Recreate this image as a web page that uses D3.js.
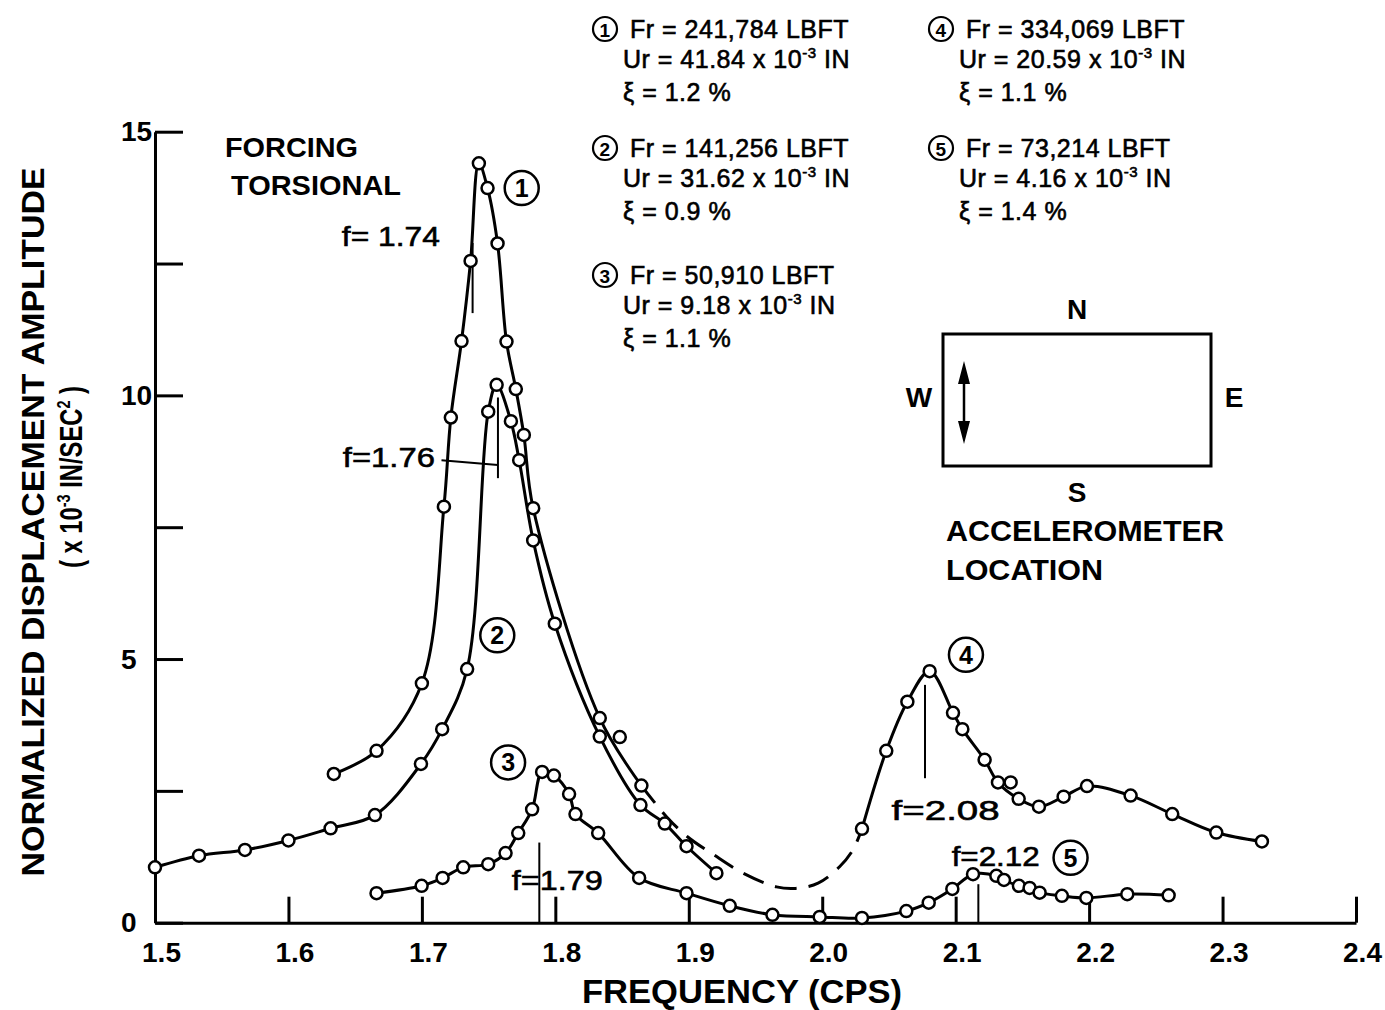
<!DOCTYPE html>
<html><head><meta charset="utf-8">
<script src="https://cdn.jsdelivr.net/npm/d3@7"></script>
<style>body{margin:0;background:#fff} text{font-family:"Liberation Sans",Arial,sans-serif;fill:#000}</style>
</head><body>
<svg id="c" width="1385" height="1010"></svg>
<script>
// ---------- data ----------
const freqTicks = [1.5,1.6,1.7,1.8,1.9,2.0,2.1,2.2,2.3,2.4];
const ampTicks  = [0,2.5,5,7.5,10,12.5,15];
const ampLabels = [0,5,10,15];

const curve1 = [[1.634,2.82],[1.666,3.26],[1.700,4.54],[1.7165,7.89],[1.7217,9.58],[1.7297,11.03],
  [1.7365,12.55],[1.7427,14.40],[1.7492,13.93],[1.7567,12.88],[1.7634,11.02],[1.7704,10.12],
  [1.7764,9.25],[1.7834,7.86],[1.8333,3.88],[1.8645,2.60]];
const curve1Extra = [[1.8483,3.52]];
const bridge14 = [[1.8645,2.60],[1.8833,2.01],[1.8995,1.62],[1.918,1.30],[1.9407,0.94],[1.9657,0.68],
  [1.98,0.65],[1.9969,0.75],[2.013,1.06],[2.023,1.38],[2.0298,1.78]];
const curve2 = [[1.5,1.05],[1.533,1.27],[1.5674,1.38],[1.600,1.56],[1.6316,1.79],[1.6648,2.04],
  [1.6993,3.01],[1.7152,3.67],[1.7339,4.81],[1.7497,9.69],[1.756,10.2],[1.7667,9.51],[1.7729,8.77],
  [1.7834,7.25],[1.7996,5.67],[1.8333,3.53],[1.8638,2.23],[1.882,1.88],[1.8983,1.45],[1.9207,0.94]];
const curve3 = [[1.666,0.56],[1.6998,0.70],[1.7155,0.85],[1.731,1.05],[1.7497,1.11],[1.7627,1.32],
  [1.7722,1.70],[1.7826,2.15],[1.7901,2.86],[1.7989,2.79],[1.8103,2.44],[1.8151,2.06],[1.8321,1.70],
  [1.8628,0.85],[1.8983,0.56],[1.9307,0.32],[1.9627,0.15],[1.9981,0.11]];
const curve4 = [[2.0298,1.78],[2.048,3.26],[2.0638,4.19],[2.0805,4.77],[2.098,3.98],[2.105,3.67],
  [2.1217,3.09],[2.1317,2.66],[2.1472,2.35],[2.1624,2.20],[2.1809,2.39],[2.1984,2.59],[2.2311,2.41],
  [2.2623,2.06],[2.2953,1.71],[2.3295,1.54]];
const curve4Extra = [[2.1412,2.66]];
const curve5 = [[2.0298,0.09],[2.063,0.22],[2.0798,0.38],[2.0975,0.64],[2.113,0.92],[2.1305,0.89],
  [2.1362,0.81],[2.1474,0.70],[2.1554,0.66],[2.1629,0.57],[2.1796,0.51],[2.1979,0.47],[2.2286,0.54],
  [2.2596,0.52]];

// resonance markers: frequency of line, amplitude range
const markerF  = [1.738, 1.757, 1.788, 2.077, 2.117];
const markerV0 = [11.56, 8.43, 0, 2.74, 0];
const markerV1 = [12.89, 9.96, 1.52, 4.51, 0.73];
const markerText = ["f= 1.74","f=1.76","f=1.79","f=2.08","f=2.12"];
const markerTextF = [1.640, 1.6408, 1.7674, 2.052, 2.097];
const markerTextV = [12.83, 8.65, 0.62, 1.95, 1.07];
const markerTextW = [98, 92, 91, 108, 88];

// curve number tags (position in data units)
const tagNum = ["1","2","3","4","5"];
const tagF = [1.7748, 1.7565, 1.7646, 2.1077, 2.1861];
const tagV = [13.93, 5.45, 3.04, 5.08, 1.23];

// legend entries
const legNum = ["1","2","3","4","5"];
const legFr  = ["241,784","141,256","50,910","334,069","73,214"];
const legUr  = ["41.84","31.62","9.18","20.59","4.16"];
const legXi  = ["1.2","0.9","1.1","1.1","1.4"];

// ---------- layout ----------
const svg = d3.select("#c");
const x = d3.scaleLinear().domain([1.5,2.4]).range([155,1356]);
const y = d3.scaleLinear().domain([0,15]).range([922.7,131.7]);

// axes
const gx = svg.append("g").attr("transform",`translate(0,${y(0)})`)
  .call(d3.axisBottom(x).tickValues(freqTicks).tickSizeInner(-26).tickSizeOuter(0)
        .tickFormat(d3.format(".1f")));
gx.select(".domain").attr("stroke","#000").attr("stroke-width",3);
gx.selectAll(".tick line").attr("stroke","#000").attr("stroke-width",3);
gx.selectAll(".tick text").attr("y",19).attr("dx",6).attr("font-size",28).attr("font-weight","bold");

const gy = svg.append("g").attr("transform",`translate(${x(1.5)},0)`)
  .call(d3.axisLeft(y).tickValues(ampTicks).tickSizeInner(-28).tickSizeOuter(0)
        .tickFormat(d => ampLabels.includes(d) ? String(d) : ""));
gy.select(".domain").attr("stroke","#000").attr("stroke-width",3);
gy.selectAll(".tick line").attr("stroke","#000").attr("stroke-width",3);
gy.selectAll(".tick text").attr("x",-34).attr("text-anchor","start").attr("font-size",28).attr("font-weight","bold");
svg.selectAll(".tick text").attr("fill","#000").attr("font-family",'"Liberation Sans",Arial,sans-serif');

// axis titles
svg.append("text").attr("x",742).attr("y",1003).attr("text-anchor","middle")
  .attr("font-size",33).attr("font-weight","bold")
  .attr("textLength",320).attr("lengthAdjust","spacingAndGlyphs").text("FREQUENCY  (CPS)");

const yt = svg.append("g").attr("transform","translate(44,522) rotate(-90)");
yt.append("text").attr("text-anchor","middle").attr("font-size",32).attr("font-weight","bold")
  .attr("textLength",709).attr("lengthAdjust","spacingAndGlyphs").text("NORMALIZED DISPLACEMENT AMPLITUDE");
const yt2 = yt.append("text").attr("x",45).attr("y",38).attr("text-anchor","middle")
  .attr("font-size",31).attr("font-weight","bold")
  .attr("textLength",182).attr("lengthAdjust","spacingAndGlyphs");
yt2.append("tspan").text("( x 10");
yt2.append("tspan").attr("font-size",19).attr("dy",-12).text("-3");
yt2.append("tspan").attr("dy",12).text(" IN/SEC");
yt2.append("tspan").attr("font-size",19).attr("dy",-12).text("2");
yt2.append("tspan").attr("dy",12).text(" )");

// curves
const line = d3.line().x(d=>x(d[0])).y(d=>y(d[1])).curve(d3.curveCatmullRom.alpha(0.5));
const plot = svg.append("g");
const solid = [curve1, curve2, curve3.concat(curve5), curve4];
plot.selectAll("path.c").data(solid).join("path").attr("class","c")
  .attr("d",line).attr("fill","none").attr("stroke","#000").attr("stroke-width",3);
plot.append("path").attr("d",line(bridge14)).attr("fill","none").attr("stroke","#000")
  .attr("stroke-width",3).attr("stroke-dasharray","22,12");

// markers
markerF.forEach((f,i)=>{
  plot.append("line").attr("x1",x(f)).attr("x2",x(f)).attr("y1",y(markerV0[i])).attr("y2",y(markerV1[i]))
    .attr("stroke","#000").attr("stroke-width",2);
  plot.append("text").attr("x",x(markerTextF[i])).attr("y",y(markerTextV[i]))
    .attr("font-size",28).attr("stroke","#000").attr("stroke-width",0.6)
    .attr("textLength",markerTextW[i]).attr("lengthAdjust","spacingAndGlyphs")
    .text(markerText[i]);
});
// leader for f=1.76
plot.append("line").attr("x1",x(1.7147)).attr("y1",y(8.77)).attr("x2",x(1.757)).attr("y2",y(8.68))
  .attr("stroke","#000").attr("stroke-width",2);

// points
const allPts = [].concat(curve1, curve1Extra, curve2, curve3, curve4, curve4Extra, curve5);
plot.selectAll("circle.p").data(allPts).join("circle").attr("class","p")
  .attr("cx",d=>x(d[0])).attr("cy",d=>y(d[1])).attr("r",6)
  .attr("fill","#fff").attr("stroke","#000").attr("stroke-width",2.5);

// curve tags
tagNum.forEach((n,i)=>{
  const g = svg.append("g").attr("transform",`translate(${x(tagF[i])},${y(tagV[i])})`);
  g.append("circle").attr("r",17).attr("fill","#fff").attr("stroke","#000").attr("stroke-width",2.5);
  g.append("text").attr("text-anchor","middle").attr("y",9).attr("font-size",25).attr("font-weight","bold").text(n);
});

// FORCING TORSIONAL
svg.append("text").attr("x",225).attr("y",157).attr("font-size",28).attr("font-weight","bold")
  .attr("textLength",133).attr("lengthAdjust","spacingAndGlyphs").text("FORCING");
svg.append("text").attr("x",231).attr("y",195).attr("font-size",28).attr("font-weight","bold")
  .attr("textLength",170).attr("lengthAdjust","spacingAndGlyphs").text("TORSIONAL");

// legend
const legX = [605,605,605,941,941];
const legY = [38,157,284,38,157];
legNum.forEach((n,i)=>{
  const g = svg.append("g").attr("transform",`translate(${legX[i]},${legY[i]})`)
    .attr("font-size",25).attr("letter-spacing",0.5);
  g.append("circle").attr("cx",0).attr("cy",-9).attr("r",12).attr("fill","none").attr("stroke","#000").attr("stroke-width",2.2);
  g.append("text").attr("text-anchor","middle").attr("y",-1).attr("font-size",19).attr("font-weight","bold").text(n);
  g.append("text").attr("x",25).attr("y",0).attr("stroke","#000").attr("stroke-width",0.6)
    .text(`Fr = ${legFr[i]} LBFT`);
  const u = g.append("text").attr("x",18).attr("y",30).attr("stroke","#000").attr("stroke-width",0.6);
  u.append("tspan").text(`Ur = ${legUr[i]} x 10`);
  u.append("tspan").attr("font-size",15).attr("dy",-10).text("-3");
  u.append("tspan").attr("dy",10).text(" IN");
  g.append("text").attr("x",18).attr("y",63).attr("stroke","#000").attr("stroke-width",0.6)
    .text(`\u03BE  = ${legXi[i]} %`);
});

// inset: accelerometer location
const ins = svg.append("g");
ins.append("rect").attr("x",943).attr("y",334).attr("width",268).attr("height",132)
  .attr("fill","none").attr("stroke","#000").attr("stroke-width",3);
[["N",1077,319],["S",1077,502],["W",919,407],["E",1234,407]].forEach(d=>{
  ins.append("text").attr("x",d[1]).attr("y",d[2]).attr("text-anchor","middle")
    .attr("font-size",28).attr("font-weight","bold").text(d[0]);
});
ins.append("line").attr("x1",964).attr("x2",964).attr("y1",372).attr("y2",433).attr("stroke","#000").attr("stroke-width",2.5);
ins.append("path").attr("d","M964,361 L958,384 L970,384 Z M964,444 L958,421 L970,421 Z").attr("fill","#000");
ins.append("text").attr("x",946).attr("y",541).attr("font-size",29).attr("font-weight","bold")
  .attr("textLength",278).attr("lengthAdjust","spacingAndGlyphs").text("ACCELEROMETER");
ins.append("text").attr("x",946).attr("y",580).attr("font-size",29).attr("font-weight","bold")
  .attr("textLength",157).attr("lengthAdjust","spacingAndGlyphs").text("LOCATION");
</script>
</body></html>
